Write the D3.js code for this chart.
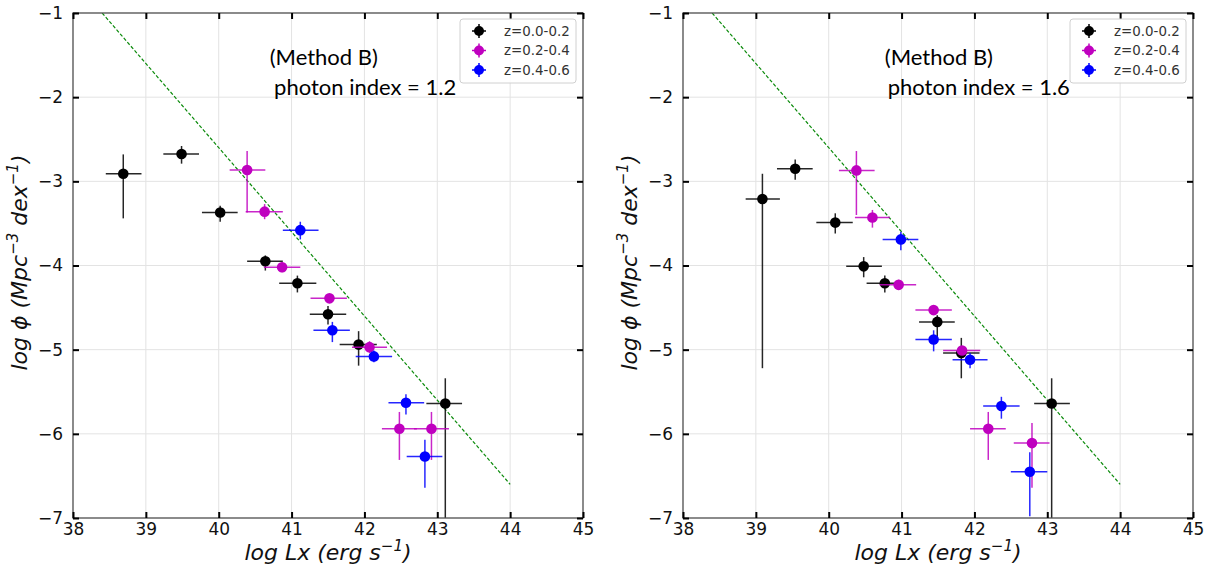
<!DOCTYPE html>
<html>
<head>
<meta charset="utf-8">
<script src="https://cdn.jsdelivr.net/npm/d3@7"></script>
<style>
  body { margin: 0; background: #fff; }
  svg { display: block; }
  .tick text { font-family: "DejaVu Sans", sans-serif; font-size: 17px; fill: #111; }
</style>
</head>
<body>
<svg width="1211" height="580"></svg>
<script>
"use strict";

// rows: [logLx, logPhi, lxLow, lxHigh, phiLow, phiHigh]  (error bar ends)
const g12_z1 = [
  [38.69, -2.91, 38.45, 38.94, -3.44, -2.68],
  [39.49, -2.675, 39.24, 39.73, -2.79, -2.58],
  [40.02, -3.37, 39.77, 40.26, -3.48, -3.29],
  [40.64, -3.95, 40.39, 40.88, -4.06, -3.88],
  [41.08, -4.21, 40.83, 41.34, -4.32, -4.12],
  [41.50, -4.58, 41.25, 41.75, -4.70, -4.48],
  [41.92, -4.94, 41.66, 42.17, -5.19, -4.78],
  [43.11, -5.64, 42.85, 43.34, -7.5, -5.34]
];
const g12_z2 = [
  [40.39, -2.865, 40.15, 40.64, -3.37, -2.64],
  [40.63, -3.36, 40.37, 40.88, -3.45, -3.27],
  [40.87, -4.02, 40.62, 41.12, -4.08, -3.96],
  [41.52, -4.39, 41.26, 41.76, -4.44, -4.34],
  [42.07, -4.97, 41.83, 42.31, -5.04, -4.90],
  [42.48, -5.94, 42.24, 42.72, -6.31, -5.74],
  [42.92, -5.94, 42.68, 43.16, -6.31, -5.74]
];
const g12_z3 = [
  [41.12, -3.58, 40.88, 41.37, -3.69, -3.48],
  [41.56, -4.77, 41.30, 41.80, -4.91, -4.67],
  [42.13, -5.08, 41.88, 42.38, -5.15, -5.01],
  [42.57, -5.63, 42.33, 42.82, -5.77, -5.53],
  [42.83, -6.27, 42.58, 43.07, -6.64, -6.07]
];
const g16_z1 = [
  [39.09, -3.21, 38.86, 39.33, -5.22, -2.91],
  [39.54, -2.85, 39.29, 39.78, -2.98, -2.74],
  [40.09, -3.49, 39.83, 40.33, -3.62, -3.38],
  [40.48, -4.01, 40.24, 40.73, -4.14, -3.90],
  [40.77, -4.21, 40.52, 41.02, -4.32, -4.12],
  [41.49, -4.67, 41.24, 41.73, -4.87, -4.59],
  [41.82, -5.04, 41.57, 42.07, -5.34, -4.86],
  [43.06, -5.64, 42.82, 43.31, -7.5, -5.34]
];
const g16_z2 = [
  [40.38, -2.87, 40.14, 40.63, -3.40, -2.64],
  [40.60, -3.43, 40.36, 40.84, -3.55, -3.34],
  [40.96, -4.23, 40.70, 41.20, -4.29, -4.17],
  [41.44, -4.53, 41.19, 41.69, -4.57, -4.49],
  [41.83, -5.01, 41.57, 42.08, -5.05, -4.97],
  [42.19, -5.94, 41.94, 42.43, -6.31, -5.74],
  [42.79, -6.11, 42.54, 43.03, -6.64, -5.87]
];
const g16_z3 = [
  [40.99, -3.69, 40.74, 41.23, -3.82, -3.60],
  [41.44, -4.88, 41.19, 41.69, -5.02, -4.77],
  [41.94, -5.12, 41.70, 42.18, -5.22, -5.04],
  [42.37, -5.67, 42.12, 42.62, -5.82, -5.56],
  [42.76, -6.45, 42.50, 43.00, -6.98, -6.22]
];

const zLabels = ["z=0.0-0.2", "z=0.2-0.4", "z=0.4-0.6"];
const zColors = ["#000000", "#bf00bf", "#0000ff"];
const fitLx = [38.4, 44];
const fitPhi = [-1, -6.6];
const xTicks = [38, 39, 40, 41, 42, 43, 44, 45];
const yTicks = [-7, -6, -5, -4, -3, -2, -1];
const photonIdx = ["1.2", "1.6"];

const panels = [
  {left: 73, series: [g12_z1, g12_z2, g12_z3], gamma: photonIdx[0], tx: [40.70, 40.76]},
  {left: 683, series: [g16_z1, g16_z2, g16_z3], gamma: photonIdx[1], tx: [40.77, 40.81]}
];

const svg = d3.select("svg");
const W = 510, H = 505, TOP = 13;
const DEJAVU = "'DejaVu Sans', sans-serif";

panels.forEach((p, pi) => {
  const g = svg.append("g").attr("transform", `translate(${p.left},${TOP})`);
  const x = d3.scaleLinear().domain([38, 45]).range([0, W]);
  const y = d3.scaleLinear().domain([-7, -1]).range([H, 0]);

  // grid
  g.append("g").selectAll("line").data(xTicks).join("line")
    .attr("x1", d => x(d)).attr("x2", d => x(d)).attr("y1", 0).attr("y2", H)
    .attr("stroke", "#e3e3e3").attr("stroke-width", 1);
  g.append("g").selectAll("line").data(yTicks).join("line")
    .attr("y1", d => y(d)).attr("y2", d => y(d)).attr("x1", 0).attr("x2", W)
    .attr("stroke", "#e3e3e3").attr("stroke-width", 1);

  const clipId = "clip" + pi;
  g.append("clipPath").attr("id", clipId).append("rect").attr("width", W).attr("height", H);
  const plot = g.append("g").attr("clip-path", `url(#${clipId})`);

  // fitted line
  plot.append("path")
    .datum(fitLx.map((d, i) => [d, fitPhi[i]]))
    .attr("d", d3.line().x(d => x(d[0])).y(d => y(d[1])))
    .attr("fill", "none").attr("stroke", "#0a8a0a").attr("stroke-width", 1.2)
    .attr("stroke-dasharray", "3.5,2");

  p.series.forEach((rows, si) => {
    const c = zColors[si];
    const s = plot.append("g");
    s.selectAll(".ex").data(rows).join("line")
      .attr("x1", d => x(d[2])).attr("x2", d => x(d[3]))
      .attr("y1", d => y(d[1])).attr("y2", d => y(d[1]))
      .attr("stroke", c).attr("stroke-width", 1.5).attr("stroke-opacity", 0.85);
    s.selectAll(".ey").data(rows).join("line")
      .attr("x1", d => x(d[0])).attr("x2", d => x(d[0]))
      .attr("y1", d => y(d[4])).attr("y2", d => y(d[5]))
      .attr("stroke", c).attr("stroke-width", 1.5).attr("stroke-opacity", 0.85);
    s.selectAll("circle").data(rows).join("circle")
      .attr("cx", d => x(d[0])).attr("cy", d => y(d[1])).attr("r", 5.3)
      .attr("fill", c);
  });

  // spines
  g.append("rect").attr("width", W).attr("height", H)
    .attr("fill", "none").attr("stroke", "#555").attr("stroke-width", 1.3);

  // axes with inward ticks
  const styleAxis = a => {
    a.select(".domain").remove();
    a.selectAll(".tick line").attr("stroke", "#000").attr("stroke-width", 2);
  };
  g.append("g").attr("transform", `translate(0,${H})`)
    .call(d3.axisBottom(x).tickValues(xTicks).tickSize(-6).tickPadding(5).tickFormat(d3.format("d")))
    .call(styleAxis);
  g.append("g")
    .call(d3.axisLeft(y).tickValues(yTicks).tickSize(-6).tickPadding(10).tickFormat(d3.format("d")))
    .call(styleAxis);
  g.append("g")
    .call(d3.axisTop(x).tickValues(xTicks).tickSize(-6).tickFormat(""))
    .call(styleAxis);
  g.append("g").attr("transform", `translate(${W},0)`)
    .call(d3.axisRight(y).tickValues(yTicks).tickSize(-6).tickFormat(""))
    .call(styleAxis);

  // axis labels
  const xl = g.append("text")
    .attr("x", W / 2).attr("y", 560 - TOP)
    .attr("text-anchor", "middle")
    .attr("font-family", DEJAVU).attr("font-style", "italic")
    .attr("font-size", 22).attr("fill", "#111");
  xl.append("tspan").text("log Lx (erg s");
  xl.append("tspan").attr("font-size", 15).attr("dy", -9).text("\u22121");
  xl.append("tspan").attr("dy", 9).text(")");

  const yl = g.append("text")
    .attr("transform", `translate(${27 - 73},${H / 2 - 3}) rotate(-90)`)
    .attr("text-anchor", "middle")
    .attr("font-family", DEJAVU).attr("font-style", "italic")
    .attr("font-size", 22).attr("fill", "#111");
  yl.append("tspan").text("log \u03d5 (Mpc");
  yl.append("tspan").attr("font-size", 15).attr("dy", -9).text("\u22123");
  yl.append("tspan").attr("dy", 9).text(" dex");
  yl.append("tspan").attr("font-size", 15).attr("dy", -9).text("\u22121");
  yl.append("tspan").attr("dy", 9).text(")");

  // annotations
  g.append("text").attr("x", x(p.tx[0])).attr("y", 65 - TOP)
    .attr("font-family", "Lato, sans-serif").attr("font-size", 22).attr("fill", "#000")
    .text("(Method B)");
  g.append("text").attr("x", x(p.tx[1])).attr("y", 95 - TOP)
    .attr("font-family", "Lato, sans-serif").attr("font-size", 22).attr("fill", "#000")
    .text("photon index = " + p.gamma);

  // legend
  const lg = g.append("g").attr("transform", `translate(${460 - 73},${19 - TOP})`);
  lg.append("rect").attr("width", 116).attr("height", 64).attr("rx", 3)
    .attr("fill", "#fff").attr("fill-opacity", 0.85).attr("stroke", "#d0d0d0");
  zLabels.forEach((lab, i) => {
    const e = lg.append("g").attr("transform", `translate(19,${12 + i * 19.5})`);
    e.append("line").attr("x1", -7).attr("x2", 7).attr("stroke", zColors[i]).attr("stroke-width", 1.5);
    e.append("line").attr("y1", -7).attr("y2", 7).attr("stroke", zColors[i]).attr("stroke-width", 1.5);
    e.append("circle").attr("r", 5).attr("fill", zColors[i]);
    e.append("text").attr("x", 25).attr("dy", "0.35em")
      .attr("font-family", DEJAVU).attr("font-size", 13.4).attr("fill", "#333")
      .text(lab);
  });
});
</script>
</body>
</html>
